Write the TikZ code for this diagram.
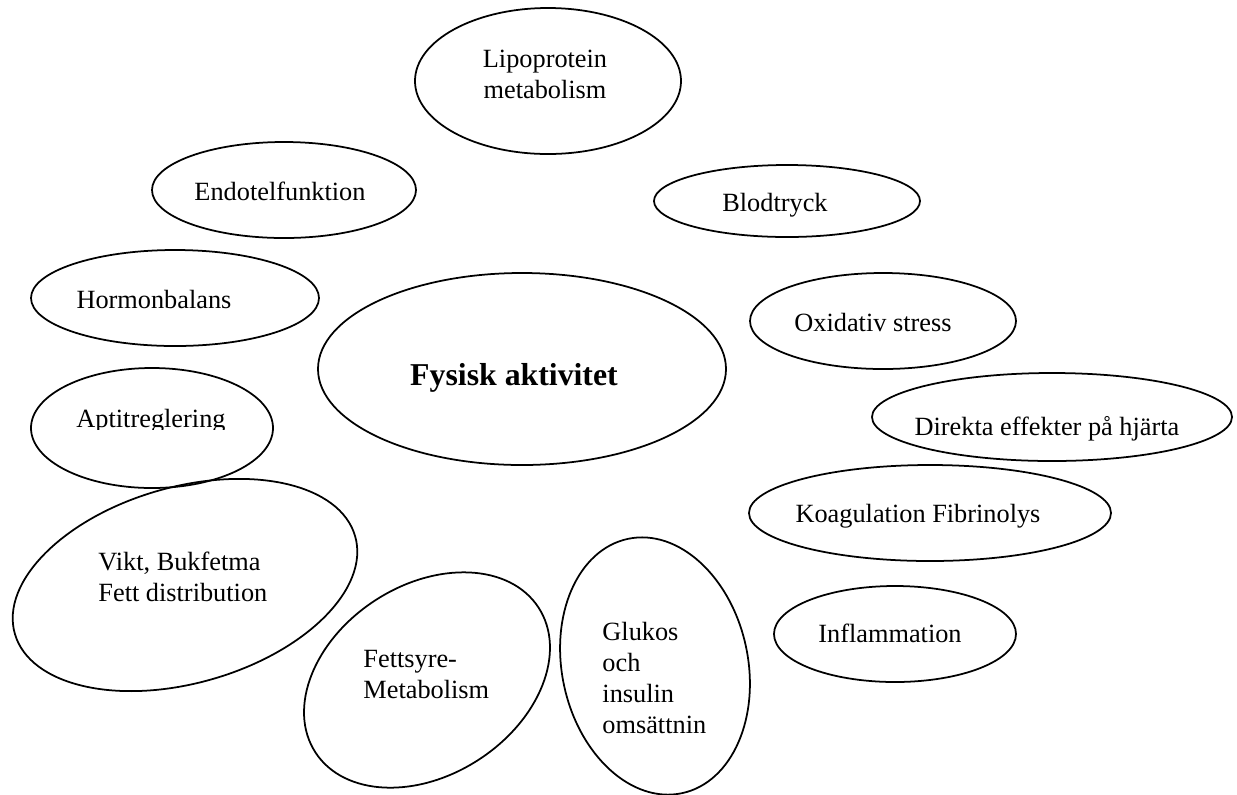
\documentclass[tikz,border=0pt]{standalone}
\usepackage{fontspec}
\setmainfont{Liberation Serif}
\usetikzlibrary{shapes.geometric}
\begin{document}
\begin{tikzpicture}[x=0.456pt, y=-0.456pt,
    bubble/.style 2 args={draw, ellipse, line width=0.8pt, inner sep=0pt,
      minimum width=0.912pt*#1, minimum height=0.912pt*#2},
    txt/.style={inner sep=0pt, font=\fontsize{12pt}{14.1pt}\selectfont}]
  \useasboundingbox (0,0) rectangle (1237,794);
  % the bubbles
  \node[bubble={133}{73}] (lipo) at (548,81) {};
  \node[bubble={132}{48}] (endo) at (284,190) {};
  \node[bubble={133}{36}] (blod) at (787,201) {};
  \node[bubble={144}{48}] (hormon) at (175,298) {};
  \node[bubble={204}{96}] (fysisk) at (522,369) {};
  \node[bubble={133}{48}] (oxid) at (883,321) {};
  \node[bubble={121}{60}] (aptit) at (152,428) {};
  \node[bubble={180}{44}] (direkta) at (1052,417) {};
  \node[bubble={181}{48}] (koag) at (930,513) {};
  \node[bubble={121}{48}] (inflam) at (895,634) {};
  \node[bubble={177}{98}, rotate=16] (vikt) at (185,585) {};
  \node[bubble={133}{95}, rotate=33] (fett) at (427,680) {};
  \node[bubble={93}{130}, rotate=12] (glukos) at (655,666) {};
  % the texts (base = last line)
  \node[txt, align=center, anchor=base] (lipoT) at (545,98) {Lipoprotein\\metabolism};
  \node[txt, anchor=base] (endoT) at (280,200) {Endotelfunktion};
  \node[txt, anchor=base] (blodT) at (775,211) {Blodtryck};
  \node[txt, anchor=base] (hormonT) at (154,308) {Hormonbalans};
  \node[txt, font=\fontsize{14.5pt}{17pt}\selectfont\bfseries, anchor=base] (fysiskT) at (514,385) {Fysisk aktivitet};
  \node[txt, anchor=base] (oxidT) at (873,331) {Oxidativ stress};
  \begin{scope}
    \clip (0,0) rectangle (1237,429);
    \node[txt, anchor=base] (aptitT) at (151,427) {Aptitreglering};
  \end{scope}
  \node[txt, anchor=base] (direktaT) at (1047,435) {Direkta effekter på hjärta};
  \node[txt, anchor=base] (koagT) at (918,522) {Koagulation Fibrinolys};
  \node[txt, anchor=base] (inflamT) at (890,642) {Inflammation};
  \node[txt, align=left, anchor=base west] (viktT) at (98,601) {Vikt, Bukfetma\\Fett distribution};
  \node[txt, align=left, anchor=base west] (fettT) at (363,698) {Fettsyre-\\Metabolism};
  \node[txt, align=left, anchor=base west] (glukosT) at (602,733) {Glukos\\och\\insulin\\omsättnin};
\end{tikzpicture}
\end{document}
